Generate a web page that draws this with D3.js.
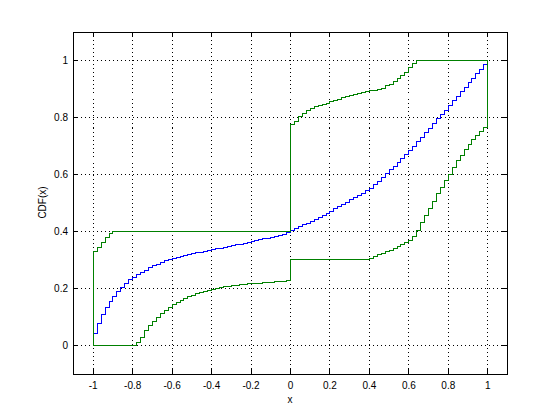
<!DOCTYPE html>
<html>
<head>
<meta charset="utf-8">
<script src="https://cdn.jsdelivr.net/npm/d3@7"></script>
<style>
  body { margin: 0; background: #fff; }
  svg { display: block; }
  text { font-family: "Liberation Sans", Arial, Helvetica, sans-serif; font-size: 10px; fill: #000; }
</style>
</head>
<body>
<div id="chart"></div>
<script>
// empirical CDF with lower / upper bounds, steps every 0.02 starting at x = -1
const xStart = -1;
const xStep = 0.02;

const blueCdf = [
  0.041, 0.076, 0.108, 0.133, 0.153, 0.172, 0.189, 0.205, 0.218, 0.230,
  0.240, 0.248, 0.257, 0.264, 0.272, 0.279, 0.285, 0.291, 0.297, 0.302,
  0.306, 0.310, 0.313, 0.316, 0.319, 0.322, 0.325, 0.328, 0.331, 0.334,
  0.337, 0.340, 0.342, 0.345, 0.348, 0.351, 0.353, 0.356, 0.359, 0.362,
  0.365, 0.368, 0.371, 0.374, 0.377, 0.380, 0.383, 0.387, 0.391, 0.396,
  0.405, 0.411, 0.417, 0.423, 0.429, 0.436, 0.442, 0.449, 0.456, 0.463,
  0.471, 0.479, 0.487, 0.495, 0.503, 0.511, 0.519, 0.527, 0.535, 0.543,
  0.552, 0.564, 0.577, 0.590, 0.603, 0.616, 0.629, 0.643, 0.657, 0.671,
  0.685, 0.700, 0.716, 0.731, 0.747, 0.763, 0.779, 0.795, 0.810, 0.826,
  0.842, 0.858, 0.874, 0.890, 0.906, 0.922, 0.938, 0.953, 0.969, 0.985
];

const upperCdf = [
  0.330, 0.343, 0.361, 0.378, 0.392, 0.400, 0.400, 0.400, 0.400, 0.400,
  0.400, 0.400, 0.400, 0.400, 0.400, 0.400, 0.400, 0.400, 0.400, 0.400,
  0.400, 0.400, 0.400, 0.400, 0.400, 0.400, 0.400, 0.400, 0.400, 0.400,
  0.400, 0.400, 0.400, 0.400, 0.400, 0.400, 0.400, 0.400, 0.400, 0.400,
  0.400, 0.400, 0.400, 0.400, 0.400, 0.400, 0.400, 0.400, 0.400, 0.400,
  0.775, 0.787, 0.803, 0.815, 0.825, 0.830, 0.837, 0.842, 0.846, 0.850,
  0.855, 0.860, 0.864, 0.869, 0.873, 0.876, 0.880, 0.883, 0.887, 0.891,
  0.893, 0.896, 0.899, 0.903, 0.911, 0.917, 0.925, 0.936, 0.947, 0.958,
  0.974, 0.988, 1.000, 1.000, 1.000, 1.000, 1.000, 1.000, 1.000, 1.000,
  1.000, 1.000, 1.000, 1.000, 1.000, 1.000, 1.000, 1.000, 1.000, 1.000
];

const lowerCdf = [
  0.000, 0.000, 0.000, 0.000, 0.000, 0.000, 0.000, 0.000, 0.000, 0.000,
  0.000, 0.009, 0.029, 0.051, 0.069, 0.084, 0.098, 0.111, 0.122, 0.133,
  0.143, 0.150, 0.158, 0.165, 0.171, 0.176, 0.181, 0.186, 0.190, 0.194,
  0.198, 0.201, 0.204, 0.206, 0.208, 0.210, 0.212, 0.213, 0.215, 0.216,
  0.217, 0.218, 0.219, 0.220, 0.221, 0.222, 0.224, 0.225, 0.226, 0.228,
  0.301, 0.301, 0.301, 0.301, 0.301, 0.301, 0.301, 0.301, 0.301, 0.301,
  0.301, 0.301, 0.301, 0.301, 0.301, 0.301, 0.301, 0.301, 0.301, 0.301,
  0.306, 0.313, 0.319, 0.324, 0.331, 0.335, 0.340, 0.347, 0.356, 0.362,
  0.368, 0.384, 0.405, 0.430, 0.456, 0.482, 0.507, 0.532, 0.556, 0.579,
  0.600, 0.625, 0.648, 0.668, 0.687, 0.705, 0.722, 0.738, 0.752, 0.765
];

const xTicks = [-1, -0.8, -0.6, -0.4, -0.2, 0, 0.2, 0.4, 0.6, 0.8, 1];
const yTicks = [0, 0.2, 0.4, 0.6, 0.8, 1];

const W = 560, H = 420;
const plot = { left: 73, right: 507, top: 31.5, bottom: 373.5 };

const svg = d3.select("#chart").append("svg")
  .attr("width", W)
  .attr("height", H);

svg.append("rect").attr("width", W).attr("height", H).attr("fill", "#fff");

const x = d3.scaleLinear().domain([-1.1, 1.1]).range([plot.left, plot.right]);
const y = d3.scaleLinear().domain([-0.1, 1.1]).range([plot.bottom, plot.top]);

const px = (v) => Math.round(x(v)) + 0.5;
const py = (v) => Math.round(y(v)) + 0.5;

// dotted grid
const grid = svg.append("g")
  .attr("stroke", "#000")
  .attr("stroke-width", 1)
  .attr("stroke-dasharray", "1,3")
  .attr("shape-rendering", "crispEdges");

grid.selectAll(".gx").data(xTicks).join("line")
  .attr("x1", (d) => px(d)).attr("x2", (d) => px(d))
  .attr("y1", plot.top).attr("y2", plot.bottom);

grid.selectAll(".gy").data(yTicks).join("line")
  .attr("y1", (d) => py(d)).attr("y2", (d) => py(d))
  .attr("x1", plot.left).attr("x2", plot.right);

// stair lines
function stairPoints(vals) {
  const pts = vals.map((v, i) => [xStart + i * xStep, v]);
  pts.push([xStart + vals.length * xStep, vals[vals.length - 1]]);
  return pts;
}

const line = d3.line()
  .x((d) => px(d[0]))
  .y((d) => py(d[1]))
  .curve(d3.curveStepAfter);

const series = [
  { name: "cdf", color: "#0000ff", pts: stairPoints(blueCdf) },
  { name: "upper", color: "#008000", pts: [[xStart, 0]].concat(stairPoints(upperCdf)) },
  { name: "lower", color: "#008000", pts: stairPoints(lowerCdf).concat([[1, 1]]) }
];

svg.append("g")
  .selectAll("path")
  .data(series)
  .join("path")
  .attr("d", (d) => line(d.pts))
  .attr("fill", "none")
  .attr("stroke", (d) => d.color)
  .attr("stroke-width", 1)
  .attr("shape-rendering", "crispEdges");

// axes, ticks pointing inward
const fmt = (d) => String(d);

const xAxis = svg.append("g")
  .attr("transform", `translate(0,${plot.bottom})`)
  .call(d3.axisBottom(x).tickValues(xTicks).tickFormat(fmt).tickSize(-5).tickPadding(8));
const xAxisTop = svg.append("g")
  .attr("transform", `translate(0,${plot.top})`)
  .call(d3.axisTop(x).tickValues(xTicks).tickFormat("").tickSize(-5));
const yAxis = svg.append("g")
  .attr("transform", `translate(${plot.left},0)`)
  .call(d3.axisLeft(y).tickValues(yTicks).tickFormat(fmt).tickSize(-5).tickPadding(5));
const yAxisRight = svg.append("g")
  .attr("transform", `translate(${plot.right},0)`)
  .call(d3.axisRight(y).tickValues(yTicks).tickFormat("").tickSize(-5));

[xAxis, xAxisTop, yAxis, yAxisRight].forEach((g) => {
  g.select(".domain").remove();
  g.selectAll("line").attr("stroke", "#000").attr("shape-rendering", "crispEdges");
  g.selectAll("text")
    .attr("fill", "#000")
    .style("font-family", '"Liberation Sans", Arial, sans-serif')
    .style("font-size", "10px");
});

svg.append("rect")
  .attr("x", plot.left + 0.5)
  .attr("y", Math.round(plot.top) + 0.5)
  .attr("width", plot.right - plot.left)
  .attr("height", Math.round(plot.bottom) - Math.round(plot.top))
  .attr("fill", "none")
  .attr("stroke", "#000")
  .attr("shape-rendering", "crispEdges");

// axis labels
svg.append("text")
  .attr("x", (plot.left + plot.right) / 2)
  .attr("y", 403)
  .attr("text-anchor", "middle")
  .text("x");

svg.append("text")
  .attr("transform", `translate(42,${(plot.top + plot.bottom) / 2}) rotate(-90)`)
  .attr("text-anchor", "middle")
  .attr("dy", "0.35em")
  .text("CDF(x)");
</script>
</body>
</html>
